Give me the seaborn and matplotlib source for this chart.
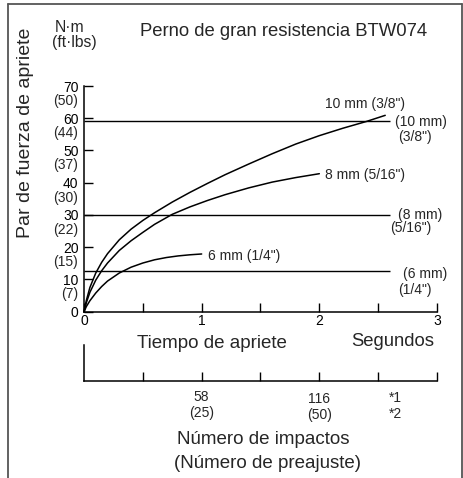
import matplotlib
matplotlib.use("Agg")
import matplotlib.pyplot as plt
from matplotlib.lines import Line2D
import pandas as pd
import seaborn as sns

# Tightening torque (N·m) against tightening time (s) for each bolt size
t_10mm = [0, 0.02, 0.05, 0.1, 0.15, 0.2, 0.3, 0.4, 0.5, 0.6, 0.75, 0.9, 1.05, 1.2,
          1.4, 1.6, 1.8, 2.0, 2.2, 2.4, 2.56]
nm_10mm = [0, 3.5, 7.5, 12.0, 15.3, 18.0, 22.3, 25.6, 28.3, 30.7, 34.0, 37.0, 39.8, 42.5,
           45.8, 49.0, 52.0, 54.6, 56.9, 59.0, 60.9]

t_8mm = [0, 0.02, 0.05, 0.1, 0.15, 0.2, 0.3, 0.4, 0.5, 0.6, 0.75, 0.9, 1.05, 1.2,
         1.4, 1.6, 1.8, 2.0]
nm_8mm = [0, 2.8, 6.0, 9.8, 12.7, 15.1, 19.0, 22.0, 24.6, 27.1, 30.2, 32.5, 34.5, 36.3,
          38.4, 40.2, 41.6, 42.8]

t_6mm = [0, 0.02, 0.05, 0.1, 0.15, 0.2, 0.3, 0.4, 0.5, 0.6, 0.7, 0.8, 0.9, 1.0]
nm_6mm = [0, 1.6, 3.4, 5.8, 7.8, 9.5, 12.0, 13.8, 15.1, 16.1, 16.8, 17.3, 17.65, 17.9]

curve_labels = ['10 mm (3/8")', '8 mm (5/16")', '6 mm (1/4")']

# Recommended torque for each bolt size
rec_torque = [59.0, 30.0, 12.6]
rec_labels = [('(10 mm)', '(3/8")'), ('(8 mm)', '(5/16")'), ('(6 mm)', '(1/4")')]
rec_end_t = 2.6

# Axis ticks
y_ticks_nm = [0, 10, 20, 30, 40, 50, 60, 70]
y_ticks_ftlbs = [None, 7, 15, 22, 30, 37, 44, 50]
x_ticks = [0, 0.5, 1, 1.5, 2, 2.5, 3]
x_tick_labels = ['0', '', '1', '', '2', '', '3']

# Impact counts along the time axis
impact_t = [1, 2]
impact_counts = ['58', '116']
impact_presets = ['(25)', '(50)']

sns.set_theme(style="white")
plt.rcParams['font.family'] = ['Liberation Sans', 'DejaVu Sans']
plt.rcParams['xtick.direction'] = 'in'
plt.rcParams['ytick.direction'] = 'in'

W, H = 464, 478
fig = plt.figure(figsize=(W / 100, H / 100), dpi=100)


def fx(px):
    return px / W


def fy(py):
    return 1 - py / H


x0, x3 = 84, 437
ax = fig.add_axes([fx(x0), fy(311.7), fx(x3) - fx(x0), fy(86) - fy(311.7)])
ax.set_xlim(0, 3)
ax.set_ylim(0, 70)
ax.set_facecolor('none')

df = pd.concat([
    pd.DataFrame({'t': t_10mm, 'nm': nm_10mm, 'size': curve_labels[0]}),
    pd.DataFrame({'t': t_8mm, 'nm': nm_8mm, 'size': curve_labels[1]}),
    pd.DataFrame({'t': t_6mm, 'nm': nm_6mm, 'size': curve_labels[2]}),
])
sns.lineplot(data=df, x='t', y='nm', hue='size', palette=['black'] * 3,
             estimator=None, sort=False, legend=False, ax=ax, lw=1.1)
for ln in ax.lines:
    ln.set_clip_on(False)
    ln.set_solid_joinstyle('round')

ax.hlines(rec_torque, 0, rec_end_t, colors='black', lw=1.0, clip_on=False)

for sp in ['top', 'right']:
    ax.spines[sp].set_visible(False)
for sp in ['left', 'bottom']:
    ax.spines[sp].set_color('black')
    ax.spines[sp].set_linewidth(1.1)

ax.set_yticks(y_ticks_nm)
ax.set_yticklabels([str(v) for v in y_ticks_nm])
ax.set_xticks(x_ticks)
ax.set_xticklabels(x_tick_labels)
ax.tick_params(axis='both', direction='in', length=6.5, width=1.0, color='black',
               labelsize=10, labelcolor='black', left=True, bottom=True,
               right=False, top=False)
ax.tick_params(axis='y', pad=4)
ax.tick_params(axis='x', pad=2)
ax.set_xlabel('')
ax.set_ylabel('')

for v, f in zip(y_ticks_nm, y_ticks_ftlbs):
    if f is not None:
        ax.annotate(f'({f})', xy=(0, v), xytext=(-4.3, -10.8), textcoords='offset points',
                    ha='right', va='center', fontsize=10)

# Curve end labels
ax.text(2.728, 64.4, curve_labels[0], ha='right', va='center', fontsize=10)
ax.text(2.048, 42.4, curve_labels[1], ha='left', va='center', fontsize=10)
ax.text(1.054, 17.3, curve_labels[2], ha='left', va='center', fontsize=10)

# Recommended torque labels at the right end of the lines
rec_pos = [((2.643, 58.8), (2.668, 54.2)),
           ((2.668, 30.0), (2.600, 26.0)),
           ((2.711, 11.7), (2.668, 6.7))]
for (a, b), (pa, pb) in zip(rec_labels, rec_pos):
    ax.text(pa[0], pa[1], a, ha='left', va='center', fontsize=10, clip_on=False)
    ax.text(pb[0], pb[1], b, ha='left', va='center', fontsize=10, clip_on=False)

# Impact count axis
ax2 = fig.add_axes([fx(x0), fy(381), fx(x3) - fx(x0), fy(345) - fy(381)])
ax2.set_xlim(0, 3)
ax2.set_ylim(0, 1)
ax2.set_facecolor('none')
for sp in ['top', 'right']:
    ax2.spines[sp].set_visible(False)
for sp in ['left', 'bottom']:
    ax2.spines[sp].set_color('black')
    ax2.spines[sp].set_linewidth(1.1)
ax2.set_yticks([])
ax2.set_xticks(x_ticks[1:])
ax2.set_xticklabels([])
ax2.tick_params(axis='x', direction='in', length=6.5, width=1.0, color='black',
                bottom=True, top=False)

for t, c, p, dy in zip(impact_t, impact_counts, impact_presets, [0, 1.5]):
    ax2.annotate(c, xy=(t, 0), xytext=(0, -11.5 - dy), textcoords='offset points',
                 ha='center', va='center', fontsize=10)
    ax2.annotate(p, xy=(t, 0), xytext=(0, -23 - dy), textcoords='offset points',
                 ha='center', va='center', fontsize=10)
ax2.annotate('*1', xy=(2.65, 0), xytext=(0, -12.2), textcoords='offset points',
             ha='center', va='center', fontsize=10)
ax2.annotate('*2', xy=(2.65, 0), xytext=(0, -23.8), textcoords='offset points',
             ha='center', va='center', fontsize=10)

# Titles and axis captions
fig.text(fx(284), fy(32), 'Perno de gran resistencia BTW074', ha='center', va='center', fontsize=13.3)
fig.text(fx(55), fy(28), 'N·m', ha='left', va='center', fontsize=11.3)
fig.text(fx(52), fy(42), '(ft·lbs)', ha='left', va='center', fontsize=11.3)
fig.text(fx(26), fy(133), 'Par de fuerza de apriete', ha='center', va='center',
         rotation=90, fontsize=14)
fig.text(fx(212), fy(344), 'Tiempo de apriete', ha='center', va='center', fontsize=13.5)
fig.text(fx(393), fy(341), 'Segundos', ha='center', va='center', fontsize=13.3)
fig.text(fx(263), fy(440), 'Número de impactos', ha='center', va='center', fontsize=13.5)
fig.text(fx(267), fy(463), '(Número de preajuste)', ha='center', va='center', fontsize=13.5)

# Outer frame (open at the bottom)
frame_kw = dict(color='#555555', lw=1.3, transform=fig.transFigure)
fig.add_artist(Line2D([fx(8.3), fx(8.3)], [0, fy(4)], **frame_kw))
fig.add_artist(Line2D([fx(8.3), fx(462)], [fy(4), fy(4)], **frame_kw))
fig.add_artist(Line2D([fx(462), fx(462)], [fy(4), 0], **frame_kw))

fig.savefig('out.png', dpi=100)
